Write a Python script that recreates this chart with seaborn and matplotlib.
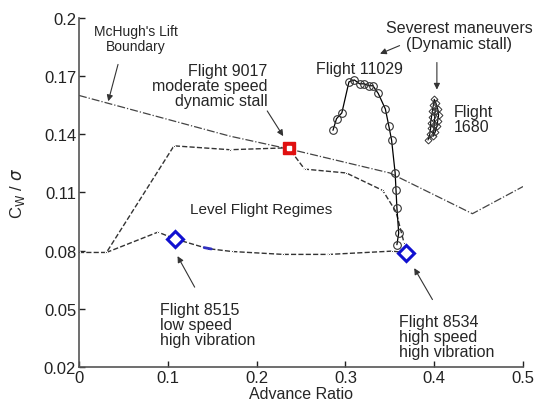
import matplotlib
matplotlib.use("Agg")
import matplotlib.pyplot as plt
import seaborn as sns

# McHugh's lift boundary (dash-dot)
mchugh_x = [0.0, 0.17, 0.24, 0.35, 0.443, 0.5]
mchugh_y = [0.160, 0.139, 0.132, 0.120, 0.099, 0.113]

# level flight regime envelope (dashed), upper and lower branch
upper_x = [0.0, 0.031, 0.107, 0.17, 0.236, 0.254, 0.301, 0.342, 0.357, 0.366]
upper_y = [0.079, 0.079, 0.134, 0.132, 0.133, 0.122, 0.120, 0.111, 0.100, 0.084]
lower_x = [0.031, 0.089, 0.108, 0.145, 0.172, 0.23, 0.282, 0.353, 0.368]
lower_y = [0.079, 0.0895, 0.086, 0.081, 0.0795, 0.078, 0.078, 0.0797, 0.0788]
blue_x = [0.141, 0.149]
blue_y = [0.0815, 0.0808]

# Flight 11029
f11029_x = [0.286, 0.290, 0.296, 0.304, 0.310, 0.316, 0.321, 0.327, 0.331,
            0.337, 0.345, 0.349, 0.352, 0.356, 0.357, 0.358, 0.360, 0.358]
f11029_y = [0.142, 0.148, 0.151, 0.167, 0.168, 0.166, 0.166, 0.165, 0.165,
            0.161, 0.153, 0.144, 0.137, 0.120, 0.111, 0.102, 0.089, 0.083]

# Flight 1680
f1680_x = [0.393, 0.395, 0.396, 0.396, 0.397, 0.398, 0.399, 0.400,
           0.402, 0.404, 0.405, 0.404, 0.403, 0.401, 0.399, 0.400, 0.401]
f1680_y = [0.137, 0.140, 0.143, 0.146, 0.149, 0.152, 0.155, 0.158,
           0.156, 0.153, 0.150, 0.147, 0.144, 0.141, 0.139, 0.145, 0.152]

# single flights
f9017 = (0.236, 0.133)
f8515 = (0.108, 0.086)
f8534 = (0.368, 0.0788)

x_ticks = [0, 0.1, 0.2, 0.3, 0.4, 0.5]
x_labels = ["0", "0.1", "0.2", "0.3", "0.4", "0.5"]
y_ticks = [0.02, 0.05, 0.08, 0.11, 0.14, 0.17, 0.2]
y_labels = ["0.02", "0.05", "0.08", "0.11", "0.14", "0.17", "0.2"]

sns.set_style("ticks")
plt.rcParams["font.family"] = ["Liberation Sans", "DejaVu Sans"]

fig = plt.figure(figsize=(5.37, 4.02), dpi=100)
ax = fig.add_axes([0.147, 0.085, 0.827, 0.868])

sns.lineplot(x=mchugh_x, y=mchugh_y, sort=False, estimator=None, ax=ax,
             color="#444444", linestyle="-.", linewidth=0.9)
sns.lineplot(x=upper_x, y=upper_y, sort=False, estimator=None, ax=ax,
             color="#333333", linestyle="--", linewidth=1.0,
             marker=".", markersize=3)
sns.lineplot(x=lower_x, y=lower_y, sort=False, estimator=None, ax=ax,
             color="#333333", linestyle="--", linewidth=1.0,
             marker=".", markersize=3)
sns.lineplot(x=blue_x, y=blue_y, sort=False, estimator=None, ax=ax,
             color="#3030c0", linewidth=2.0)
sns.lineplot(x=f11029_x, y=f11029_y, sort=False, estimator=None, ax=ax,
             color="black", linewidth=0.9, marker="o", markersize=5.5,
             markerfacecolor="none", markeredgecolor="#333333",
             markeredgewidth=0.8)
sns.lineplot(x=f1680_x, y=f1680_y, sort=False, estimator=None, ax=ax,
             color="black", linewidth=0.8, marker="D", markersize=3.5,
             markerfacecolor="none", markeredgecolor="#333333",
             markeredgewidth=0.7)

ax.plot(*f9017, marker="s", markersize=9, color="#e01010", markeredgecolor="#e01010")
ax.plot(*f9017, marker="s", markersize=2.5, color="white", markeredgecolor="white")
for pt in (f8515, f8534):
    ax.plot(*pt, marker="D", markersize=8, markerfacecolor="white",
            markeredgecolor="#1010d0", markeredgewidth=2.2)

arrow = dict(arrowstyle="-|>", color="#333333", lw=0.8, mutation_scale=9,
             shrinkA=0, shrinkB=0)
ax.annotate("", xy=(0.033, 0.157), xytext=(0.044, 0.176), arrowprops=arrow)
ax.annotate("", xy=(0.230, 0.139), xytext=(0.212, 0.152), arrowprops=arrow)
ax.annotate("", xy=(0.339, 0.1815), xytext=(0.361, 0.1857), arrowprops=arrow)
ax.annotate("", xy=(0.403, 0.163), xytext=(0.403, 0.177), arrowprops=arrow)
ax.annotate("", xy=(0.111, 0.0771), xytext=(0.1303, 0.0611), arrowprops=arrow)
ax.annotate("", xy=(0.3775, 0.0709), xytext=(0.398, 0.0547), arrowprops=arrow)

ax.text(0.064, 0.1895, "McHugh's Lift\nBoundary", fontsize=10, ha="center",
        va="center", linespacing=1.05)
ax.text(0.212, 0.165, "Flight 9017\nmoderate speed\ndynamic stall", fontsize=11.5,
        ha="right", va="center", multialignment="right", linespacing=1.0)
ax.text(0.428, 0.191, "Severest maneuvers\n(Dynamic stall)", fontsize=11.5,
        ha="center", va="center", linespacing=1.05)
ax.text(0.316, 0.174, "Flight 11029", fontsize=11.5, ha="center", va="center")
ax.text(0.4225, 0.148, "Flight\n1680", fontsize=11.5, ha="left", va="center",
        linespacing=1.0)
ax.text(0.125, 0.1012, "Level Flight Regimes", fontsize=11, ha="left",
        va="center")
ax.text(0.091, 0.0417, "Flight 8515\nlow speed\nhigh vibration", fontsize=11.5,
        ha="left", va="center", linespacing=1.0)
ax.text(0.3607, 0.0358, "Flight 8534\nhigh speed\nhigh vibration", fontsize=11.5,
        ha="left", va="center", linespacing=1.0)

ax.set_xlim(0, 0.5)
ax.set_ylim(0.02, 0.2)
ax.set_xticks(x_ticks)
ax.set_xticklabels(x_labels)
ax.set_yticks(y_ticks)
ax.set_yticklabels(y_labels)
ax.tick_params(direction="in", length=4, width=1, labelsize=12, pad=2,
               colors="#222222")
ax.set_xlabel("Advance Ratio", fontsize=11.5, labelpad=1)
ax.set_ylabel(r"C$_\mathrm{W}$ / $\sigma$", fontsize=12, labelpad=12)
sns.despine(ax=ax)
for side in ("left", "bottom"):
    ax.spines[side].set_color("#555555")
    ax.spines[side].set_linewidth(1.2)

fig.savefig("out.png", dpi=100)
